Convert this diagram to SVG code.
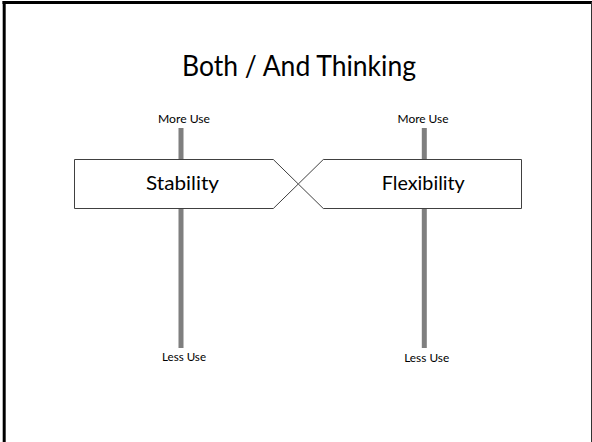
<svg xmlns="http://www.w3.org/2000/svg" width="592" height="442" viewBox="0 0 592 442">
<style>
.frame{stroke:#000;fill:none}
.bar{fill:#7f7f7f}
.shape{fill:#fff;stroke:#404040;stroke-width:1}
.t{font-family:Lato,"Open Sans",sans-serif;fill:#000}
.small{font-size:11px}
.lbl{font-size:20px}
.title{font-size:29px}
</style>
<rect width="592" height="442" fill="#fff"/>
<g id="frame">
<line class="frame" x1="2.5" y1="2.5" x2="592" y2="2.5" stroke-width="3"/>
<line class="frame" x1="4.2" y1="1" x2="4.2" y2="442" stroke-width="3"/>
<line x1="591.5" y1="2" x2="591.5" y2="442" stroke="#333" stroke-width="1"/>
</g>
<text id="title" class="t title" x="299" y="75.5" text-anchor="middle" textLength="234" lengthAdjust="spacingAndGlyphs">Both / And Thinking</text>
<g id="connectors">
<rect class="bar" x="178.5" y="128" width="5" height="220"/>
<rect class="bar" x="421.8" y="128" width="5" height="220"/>
</g>
<g id="stability">
<polygon class="shape" points="74.5,159.5 273.3,159.5 298.3,184 273.3,208.5 74.5,208.5"/>
<text class="t lbl" x="182.5" y="190" text-anchor="middle" textLength="73" lengthAdjust="spacingAndGlyphs">Stability</text>
</g>
<g id="flexibility">
<polygon class="shape" points="323.3,159.5 521.5,159.5 521.5,208.5 323.3,208.5 298.3,184"/>
<text class="t lbl" x="423.3" y="190" text-anchor="middle" textLength="83" lengthAdjust="spacingAndGlyphs">Flexibility</text>
</g>
<g id="labels">
<text class="t small" x="184" y="123" text-anchor="middle" textLength="52" lengthAdjust="spacingAndGlyphs">More Use</text>
<text class="t small" x="423" y="123" text-anchor="middle" textLength="51" lengthAdjust="spacingAndGlyphs">More Use</text>
<text class="t small" x="184" y="361" text-anchor="middle" textLength="44" lengthAdjust="spacingAndGlyphs">Less Use</text>
<text class="t small" x="426.7" y="362" text-anchor="middle" textLength="45" lengthAdjust="spacingAndGlyphs">Less Use</text>
</g>
</svg>
